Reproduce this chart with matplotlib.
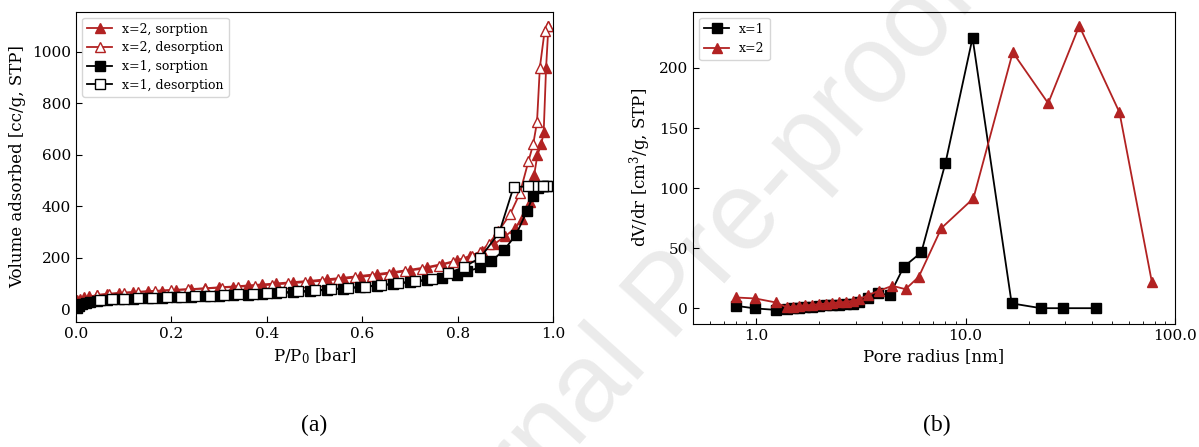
import matplotlib
matplotlib.use("Agg")
import matplotlib.pyplot as plt

# (a) N2 isotherms
p1_ads = [0.002, 0.006, 0.012, 0.02, 0.03, 0.045, 0.065, 0.09, 0.12, 0.15, 0.18, 0.21,
          0.24, 0.27, 0.30, 0.33, 0.36, 0.39, 0.42, 0.455, 0.49, 0.525, 0.56, 0.595,
          0.63, 0.665, 0.70, 0.735, 0.767, 0.798, 0.82, 0.847, 0.87, 0.897, 0.922,
          0.945, 0.958, 0.968, 0.978, 0.988]
v1_ads = [5, 14, 21, 26, 30, 33, 36, 39, 41, 43, 45, 47, 49, 51, 53, 55, 57, 59, 62,
          66, 70, 76, 81, 86, 92, 98, 106, 113, 122, 135, 148, 163, 187, 230, 290,
          381, 441, 472, 478, 480]
p1_des = [0.988, 0.978, 0.958, 0.948, 0.917, 0.887, 0.847, 0.812, 0.78, 0.745, 0.71,
          0.675, 0.64, 0.605, 0.57, 0.535, 0.50, 0.465, 0.43, 0.40, 0.37, 0.34, 0.31,
          0.28, 0.25, 0.22, 0.19, 0.16, 0.13, 0.10, 0.075, 0.05]
v1_des = [480, 480, 478, 477, 475, 299, 200, 164, 140, 118, 110, 102, 95, 89, 84, 79,
          74, 70, 66, 62, 60, 58, 56, 54, 52, 50, 48, 46, 44, 42, 40, 38]

p2_ads = [0.002, 0.008, 0.016, 0.028, 0.045, 0.065, 0.09, 0.12, 0.15, 0.18, 0.21, 0.24,
          0.27, 0.30, 0.33, 0.36, 0.39, 0.42, 0.455, 0.49, 0.525, 0.56, 0.595, 0.63,
          0.665, 0.70, 0.735, 0.767, 0.798, 0.825, 0.85, 0.875, 0.899, 0.92, 0.934,
          0.945, 0.952, 0.96, 0.967, 0.975, 0.98, 0.985, 0.99]
v2_ads = [35, 42, 47, 51, 55, 59, 63, 67, 70, 73, 76, 79, 82, 86, 89, 93, 97, 101, 106,
          111, 117, 123, 130, 137, 145, 154, 164, 176, 190, 207, 226, 252, 283, 315,
          349, 385, 417, 521, 600, 640, 687, 935, 1100]
p2_des = [0.99, 0.982, 0.972, 0.966, 0.958, 0.948, 0.93, 0.91, 0.885, 0.865, 0.847,
          0.83, 0.81, 0.79, 0.76, 0.725, 0.69, 0.655, 0.62, 0.585, 0.55, 0.515, 0.48,
          0.445, 0.41, 0.375, 0.34, 0.305, 0.27, 0.235, 0.20, 0.165, 0.13, 0.10, 0.07,
          0.045]
v2_des = [1100, 1080, 938, 726, 640, 574, 450, 370, 303, 255, 223, 207, 195, 184, 170,
          158, 148, 139, 131, 124, 117, 111, 106, 101, 96, 92, 88, 85, 81, 78, 75, 72,
          68, 65, 61, 57]

# (b) pore size distribution
r1 = [0.80, 0.99, 1.24, 1.40, 1.50, 1.60, 1.72, 1.85, 2.0, 2.15, 2.3, 2.5, 2.7, 2.9,
      3.1, 3.42, 3.81, 4.34, 5.07, 6.15, 8.02, 10.8, 16.6, 22.9, 29.3, 42.0]
d1 = [2.2, 0, -1.2, -0.5, 0, 0.5, 1, 1.5, 2, 2.5, 2.5, 3, 3.5, 4, 5, 8.3, 12.7, 11,
      34.6, 46.6, 121, 225, 4.2, 0.2, 0.2, 0.2]
r2 = [0.80, 0.99, 1.24, 1.40, 1.50, 1.60, 1.72, 1.85, 2.0, 2.15, 2.3, 2.5, 2.7, 2.9,
      3.1, 3.42, 3.85, 4.47, 5.17, 5.98, 7.67, 10.9, 16.8, 24.8, 34.9, 54.3, 77.6]
d2 = [9.1, 8.3, 5, 1, 1.5, 2, 2.5, 3, 3.5, 4, 4.5, 5, 5.5, 6.5, 7.5, 11, 14.6, 18.8,
      16, 26.3, 66.8, 91.5, 213, 170.6, 235, 163, 21.6]

r_ticks = [1, 10, 100]
r_ticklabels = ["1.0", "10.0", "100.0"]

RED = "#b22222"

plt.rcParams["font.family"] = "DejaVu Serif"
plt.rcParams["mathtext.fontset"] = "dejavuserif"
plt.rcParams["font.size"] = 11

fig = plt.figure(figsize=(11.99, 4.47), dpi=100)
# faint journal watermark behind everything
fig.text(0.56, 0.33, "Journal Pre-proof", family="Liberation Sans", fontsize=80,
         color="#ebebeb", rotation=48, ha="center", va="center", zorder=-1)

ax1 = fig.add_axes([0.0634, 0.279, 0.398, 0.695])
ax2 = fig.add_axes([0.578, 0.275, 0.402, 0.699])
for ax in (ax1, ax2):
    ax.set_facecolor("none")
    ax.tick_params(direction="in", which="both", length=4)
    ax.tick_params(which="minor", length=2.5)

ms = 6.5
ax1.plot(p2_ads, v2_ads, "-^", color=RED, ms=ms, lw=1.3, label="x=2, sorption")
ax1.plot(p2_des, v2_des, "-^", color=RED, mfc="white", ms=ms, lw=1.3,
         label="x=2, desorption")
ax1.plot(p1_ads, v1_ads, "-s", color="black", ms=ms, lw=1.3, label="x=1, sorption")
ax1.plot(p1_des, v1_des, "-s", color="black", mfc="white", ms=ms, lw=1.3,
         label="x=1, desorption")
ax1.set_xlim(0, 1.0)
ax1.set_yticks([0, 200, 400, 600, 800, 1000])
ax1.set_xlabel("P/P$_0$ [bar]", fontsize=12)
ax1.set_ylabel("Volume adsorbed [cc/g, STP]", fontsize=12)
ax1.legend(loc="upper left", fontsize=9, labelspacing=0.45)

ax2.plot(r1, d1, "-s", color="black", ms=7, lw=1.3, label="x=1")
ax2.plot(r2, d2, "-^", color=RED, ms=7, lw=1.3, label="x=2")
ax2.set_xscale("log")
ax2.set_xlim(0.5, 100)
ax2.set_xticks(r_ticks)
ax2.set_xticklabels(r_ticklabels)
ax2.set_yticks([0, 50, 100, 150, 200])
ax2.set_xlabel("Pore radius [nm]", fontsize=12)
ax2.set_ylabel("dV/dr [cm$^3$/g, STP]", fontsize=12)
ax2.legend(loc="upper left", fontsize=9)

fig.text(0.262, 0.035, "(a)", family="Liberation Serif", fontsize=17, ha="center")
fig.text(0.781, 0.035, "(b)", family="Liberation Serif", fontsize=17, ha="center")

fig.savefig("out.png", dpi=100)
